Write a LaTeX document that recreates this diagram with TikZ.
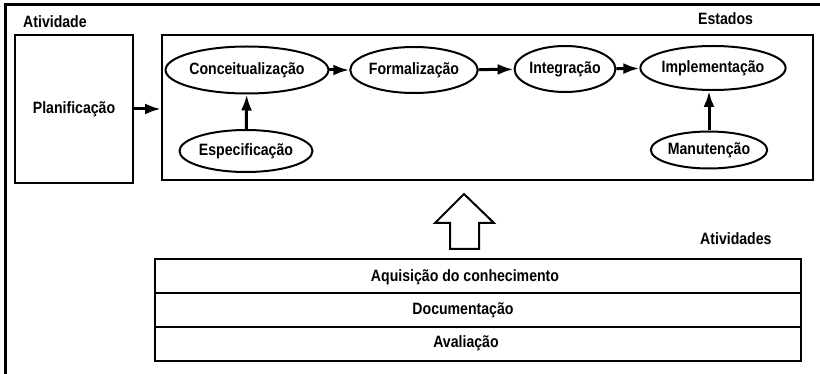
\documentclass[tikz,border=0pt]{standalone}
\usepackage{fontspec}
\setmainfont{Liberation Sans}[FakeStretch=0.86]
\usetikzlibrary{arrows.meta,shapes.geometric}
\begin{document}
\begin{tikzpicture}[x=1pt,y=-1pt,
  every node/.style={font=\fontsize{16.4}{18}\selectfont\bfseries},
  lbl/.style={inner sep=0pt},
  box/.style={draw,line width=2pt,rectangle,inner sep=0pt},
  state/.style={draw,ellipse,line width=2pt,inner sep=0pt},
  flow/.style={line width=3pt,-{Latex[length=16pt,width=11pt]}},
  row/.style={draw,line width=2pt,rectangle,inner sep=0pt,minimum width=646pt,minimum height=34pt},
]
\useasboundingbox (0,0) rectangle (820,374);
% outer frame (top and left only)
\draw[line width=3pt] (820,5) -- (5,5) -- (5,374);
% labels
\node[lbl,anchor=west] (atv) at (23,22) {Atividade};
\node[lbl,anchor=west] (est) at (698,19) {Estados};
\node[lbl,anchor=west] (atvs) at (700,239) {Atividades};
% Planificacao box
\node[box,minimum width=118pt,minimum height=148pt] (plan) at (74,109) {Planifica\c{c}\~ao};
% Estados box
\node[box,minimum width=651pt,minimum height=145pt] (estbox) at (487.5,107.5) {};
\draw[flow] (plan.east) -- (plan.east -| estbox.west);
% states
\node[state,minimum width=141pt,minimum height=47pt] (conc) at (247,70) {Conceitualiza\c{c}\~ao};
\node[state,minimum width=124pt,minimum height=46pt] (form) at (414,70) {Formaliza\c{c}\~ao};
\node[state,minimum width=97pt,minimum height=46pt] (integ) at (565,69) {Integra\c{c}\~ao};
\node[state,minimum width=128pt,minimum height=44pt] (impl) at (713,68) {Implementa\c{c}\~ao};
\node[state,minimum width=108pt,minimum height=42pt] (espec) at (246,151) {Especifica\c{c}\~ao};
\node[state,minimum width=108pt,minimum height=37pt] (manut) at (709,150) {Manuten\c{c}\~ao};
\draw[flow] (conc) -- (form);
\draw[flow] (form) -- (integ);
\draw[flow] (integ) -- (impl);
\draw[flow] (espec) -- (conc);
\draw[flow] (manut) -- (manut |- impl.south);
% hollow up arrow
\draw[line width=2pt,line join=miter] (464,194) -- (494,223) -- (479,223) -- (479,249) -- (450,249) -- (450,223) -- (435,223) -- cycle;
% activity table
\node[row] (r1) at (478,276) {};
\node[row] (r2) at (478,310) {};
\node[row] (r3) at (478,344) {};
\node[lbl] (t1) at (465,277) {Aquisi\c{c}\~ao do conhecimento};
\node[lbl] (t2) at (463,310) {Documenta\c{c}\~ao};
\node[lbl] (t3) at (466,343) {Avalia\c{c}\~ao};
\end{tikzpicture}
\end{document}
